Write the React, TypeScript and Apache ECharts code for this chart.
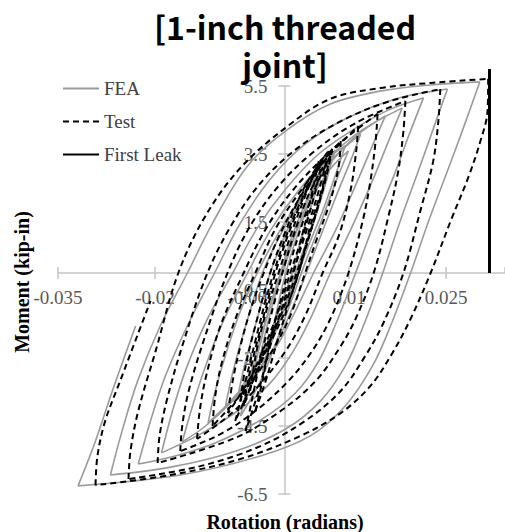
import React, { useEffect, useRef } from "react";
import * as echarts from "echarts";

type Pt = [number, number];

// Axis settings (rotation in radians, moment in kip-in)
const xMin = -0.035;
const xMax = 0.0341;
const xInterval = 0.015;
const yMin = -6.5;
const yMax = 5.5;
const yInterval = 2;

const legendNames = ["FEA", "Test", "First Leak"];
const titleLines = ["[1-inch threaded", "joint]"];
const xName = "Rotation (radians)";
const yName = "Moment (kip-in)";

// FEA: loading (ascending) branches, innermost to outermost
const feaUp: Pt[][] = [
  [[-0.0068, -4.21], [-0.0053, -3.03], [-0.0034, -1.71], [-0.0012, -0.38], [0.0012, 0.94], [0.004, 2.12], [0.0071, 3.06], [0.0099, 3.59]],
  [[-0.0034, -2.88], [-0.0019, -1.71], [0.0002, 0], [0.0025, 1.38], [0.0053, 2.71], [0.0079, 3.62]],
  [[-0.0056, -3.62], [-0.004, -2.29], [-0.0022, -0.97], [-0.0006, 0], [0.0012, 1.09], [0.0037, 2.26], [0.0063, 3.29]],
  [[-0.0045, -3.18], [-0.0034, -2.15], [-0.0019, -0.97], [-0.0003, 0], [0.0019, 1.24], [0.0043, 2.41], [0.0074, 3.44]],
  [[-0.0071, -3.53], [-0.006, -2.59], [-0.0043, -1.41], [-0.0022, 0], [0.0005, 1.29], [0.0032, 2.41], [0.0063, 3.29], [0.0094, 3.74]],
  [[-0.0091, -3.91], [-0.008, -2.94], [-0.006, -1.56], [-0.0034, 0], [-0.0003, 1.24], [0.0032, 2.41], [0.0074, 3.35], [0.0118, 4.09]],
  [[-0.0118, -4.41], [-0.0107, -3.47], [-0.009, -2.35], [-0.0068, -1.12], [-0.0042, 0], [-0.0009, 1.18], [0.0028, 2.26], [0.0071, 3.24], [0.0111, 4.03], [0.0156, 4.62]],
  [[-0.0158, -4.97], [-0.0142, -3.91], [-0.0122, -2.74], [-0.0093, -1.35], [-0.0057, 0], [-0.0022, 1.24], [0.0019, 2.35], [0.0063, 3.29], [0.0118, 4.18], [0.0182, 4.85]],
  [[-0.019, -5.29], [-0.0173, -4.06], [-0.0152, -2.82], [-0.0119, -1.35], [-0.008, 0], [-0.0043, 1.29], [0.0002, 2.47], [0.0053, 3.5], [0.011, 4.26], [0.0164, 4.82], [0.0215, 5.15]],
  [[-0.0226, -5.62], [-0.0207, -4.35], [-0.0184, -3.03], [-0.0148, -1.47], [-0.0108, 0], [-0.0068, 1.47], [-0.0022, 2.76], [0.0032, 3.79], [0.0094, 4.53], [0.0172, 5.12], [0.0252, 5.41]],
  [[-0.0269, -5.94], [-0.0251, -4.65], [-0.0227, -3.18], [-0.0192, -1.56], [-0.015, 0], [-0.0111, 1.47], [-0.0057, 3.15], [0.0002, 4.18], [0.0071, 4.97], [0.0148, 5.35], [0.0226, 5.53], [0.0302, 5.62]],
  [[-0.0319, -6.26], [-0.0292, -4.94], [-0.0266, -3.47], [-0.023, -1.56]],
];

// FEA: unloading (descending) branches
const feaDown: Pt[][] = [
  [[0.0099, 3.59], [0.008, 2.71], [0.0056, 1.47], [0.0032, 0.29], [0.0012, -0.76], [-0.0012, -2.0], [-0.0037, -3.18], [-0.0068, -4.21]],
  [[0.0079, 3.62], [0.0059, 2.41], [0.0037, 1.09], [0.0017, 0], [-0.0002, -1.12], [-0.0022, -2.15], [-0.004, -2.94]],
  [[0.0063, 3.29], [0.0049, 2.41], [0.0029, 1.24], [0.0012, 0], [-0.0006, -0.97], [-0.0028, -2.15], [-0.0049, -3.18], [-0.006, -3.71]],
  [[0.0074, 3.44], [0.0065, 2.71], [0.0046, 1.53], [0.0028, 0.5], [0.002, 0], [-0.0002, -1.12], [-0.0025, -2.15], [-0.0053, -2.94], [-0.0071, -3.53]],
  [[0.0094, 3.74], [0.008, 2.94], [0.0059, 1.82], [0.0034, 0.65], [0.0022, 0], [-0.0003, -1.18], [-0.0031, -2.29], [-0.006, -3.24], [-0.0091, -3.91]],
  [[0.0118, 4.09], [0.0102, 3.29], [0.008, 2.26], [0.0056, 1.09], [0.0034, 0], [0.0009, -1.18], [-0.0019, -2.29], [-0.006, -3.32], [-0.0118, -4.41]],
  [[0.0156, 4.62], [0.0136, 3.74], [0.0113, 2.71], [0.008, 1.29], [0.0045, 0], [0.0017, -1.12], [-0.0009, -2.06], [-0.004, -2.88], [-0.008, -3.76], [-0.0122, -4.5], [-0.0158, -4.97]],
  [[0.0182, 4.85], [0.0161, 3.88], [0.0136, 2.71], [0.0105, 1.38], [0.0071, 0], [0.004, -1.35], [0.0012, -2.35], [-0.0022, -3.24], [-0.0068, -4.0], [-0.013, -4.74], [-0.019, -5.29]],
  [[0.0215, 5.15], [0.0192, 4.03], [0.0169, 2.85], [0.0139, 1.47], [0.011, 0], [0.008, -1.47], [0.0053, -2.59], [0.0017, -3.53], [-0.0034, -4.29], [-0.0107, -5.0], [-0.0169, -5.38], [-0.0226, -5.62]],
  [[0.0252, 5.41], [0.0229, 4.18], [0.0207, 3.0], [0.0179, 1.53], [0.0152, 0], [0.0122, -1.56], [0.0094, -2.74], [0.0056, -3.76], [0.0002, -4.59], [-0.0076, -5.24], [-0.0176, -5.71], [-0.0269, -5.94]],
  [[0.0302, 5.62], [0.0275, 4.18], [0.0252, 3.0], [0.0223, 1.53], [0.0195, 0], [0.0164, -1.56], [0.0136, -2.74], [0.0094, -3.91], [0.004, -4.79], [-0.0037, -5.38], [-0.0161, -5.94], [-0.0319, -6.26]],
];

// Test: loading (ascending) branches
const testUp: Pt[][] = [
  [[-0.006, -4.65], [-0.0049, -3.62], [-0.0034, -2.29], [-0.0015, -0.82], [0, 0.21], [0.0019, 1.38], [0.004, 2.41], [0.0065, 3.29]],
  [[-0.0045, -4.06], [-0.0034, -3.18], [-0.0022, -2.0], [-0.0006, -0.82], [0.0009, 0.29], [0.0028, 1.47], [0.0049, 2.56], [0.0071, 3.44]],
  [[-0.0063, -3.91], [-0.0053, -2.88], [-0.0034, -1.41], [-0.0014, 0], [0.0009, 1.29], [0.0034, 2.41], [0.0059, 3.35]],
  [[-0.0076, -4.35], [-0.0062, -3.32], [-0.0043, -1.85], [-0.0025, -0.53], [-0.0003, 0.79], [0.0022, 1.97], [0.0048, 2.94], [0.0074, 3.65]],
  [[-0.0053, -3.47], [-0.0043, -2.29], [-0.0028, -1.12], [-0.0009, 0], [0.0012, 1.24], [0.0032, 2.26], [0.0053, 3.29]],
  [[-0.0068, -3.76], [-0.006, -2.74], [-0.0045, -1.56], [-0.0022, 0], [0.0002, 1.24], [0.0032, 2.56], [0.0068, 3.59]],
  [[-0.0087, -4.12], [-0.008, -3.18], [-0.0068, -2.15], [-0.0053, -1.12], [-0.0032, 0], [-0.0006, 1.18], [0.0025, 2.26], [0.0056, 3.15], [0.0087, 3.88]],
  [[-0.0111, -4.5], [-0.0107, -3.62], [-0.0096, -2.59], [-0.0074, -1.26], [-0.0045, 0], [-0.0014, 1.29], [0.0025, 2.41], [0.0068, 3.44], [0.0114, 4.32]],
  [[-0.0135, -4.88], [-0.0131, -4.06], [-0.0121, -3.03], [-0.0099, -1.56], [-0.0063, 0], [-0.0029, 1.29], [0.0012, 2.41], [0.0063, 3.44], [0.0105, 4.12], [0.0144, 4.68]],
  [[-0.0161, -5.24], [-0.0158, -4.5], [-0.0148, -3.47], [-0.0125, -2.0], [-0.0088, 0], [-0.0053, 1.38], [-0.0009, 2.56], [0.0043, 3.53], [0.011, 4.41], [0.0187, 5.06]],
  [[-0.0196, -5.59], [-0.0193, -4.79], [-0.0182, -3.76], [-0.0158, -2.15], [-0.0119, 0], [-0.008, 1.47], [-0.0034, 2.71], [0.0025, 3.74], [0.0094, 4.53], [0.0164, 5.06], [0.0241, 5.41]],
  [[-0.0241, -6.06], [-0.0238, -5.24], [-0.0226, -4.06], [-0.0199, -2.29], [-0.0164, 0], [-0.0122, 1.68], [-0.0068, 3.09], [0.0005, 4.32], [0.0071, 5.12], [0.0148, 5.44], [0.0226, 5.59], [0.0315, 5.71]],
  [[-0.0292, -6.24], [-0.0289, -5.38], [-0.0277, -4.35], [-0.0254, -3.18], [-0.0207, -0.82]],
];

// Test: unloading (descending) branches
const testDown: Pt[][] = [
  [[0.0065, 3.29], [0.0053, 2.41], [0.0034, 1.24], [0.0015, 0.12], [-0.0003, -0.97], [-0.0022, -2.15], [-0.004, -3.47], [-0.006, -4.65]],
  [[0.0071, 3.44], [0.0059, 2.47], [0.0043, 1.38], [0.0025, 0.21], [0.0008, -0.82], [-0.0011, -2.0], [-0.0029, -3.18], [-0.0045, -4.06]],
  [[0.0059, 3.35], [0.0048, 2.41], [0.0031, 1.24], [0.0014, 0], [-0.0006, -1.18], [-0.0031, -2.29], [-0.0063, -3.91]],
  [[0.0074, 3.65], [0.0065, 2.85], [0.0049, 1.76], [0.0028, 0.5], [0.0006, -0.68], [-0.0019, -1.85], [-0.0045, -3.03], [-0.0076, -4.35]],
  [[0.0053, 3.29], [0.004, 2.12], [0.0025, 0.94], [0.0009, 0], [-0.0012, -1.26], [-0.0037, -2.44], [-0.0068, -3.76]],
  [[0.0068, 3.59], [0.0059, 2.56], [0.004, 1.38], [0.0022, 0], [-0.0002, -1.26], [-0.0029, -2.29], [-0.006, -3.32], [-0.0087, -4.12]],
  [[0.0087, 3.88], [0.0084, 3.15], [0.0071, 2.12], [0.0049, 0.94], [0.0032, 0], [0.0009, -1.26], [-0.0019, -2.29], [-0.0056, -3.32], [-0.0111, -4.5]],
  [[0.0114, 4.32], [0.0111, 3.59], [0.0102, 2.41], [0.0084, 1.09], [0.0059, 0], [0.0032, -1.26], [0.0002, -2.29], [-0.004, -3.32], [-0.0087, -4.21], [-0.0135, -4.88]],
  [[0.0144, 4.68], [0.0141, 3.88], [0.0133, 2.71], [0.0121, 1.53], [0.0099, 0], [0.0071, -1.35], [0.0043, -2.29], [0.0006, -3.18], [-0.0045, -4.06], [-0.0099, -4.74], [-0.0161, -5.24]],
  [[0.0187, 5.06], [0.0184, 4.18], [0.0176, 3.0], [0.0161, 1.68], [0.0138, 0], [0.011, -1.35], [0.0084, -2.24], [0.0048, -3.18], [-0.0006, -4.06], [-0.0076, -4.85], [-0.0196, -5.59]],
  [[0.0241, 5.41], [0.0238, 4.47], [0.023, 3.29], [0.021, 1.82], [0.0184, 0], [0.0153, -1.47], [0.0125, -2.44], [0.0087, -3.47], [0.0032, -4.35], [-0.0037, -5.09], [-0.013, -5.68], [-0.0241, -6.06]],
  [[0.0315, 5.71], [0.0314, 4.76], [0.0303, 3.88], [0.0285, 2.85], [0.0257, 1.53], [0.0226, 0], [0.0195, -1.35], [0.0167, -2.35], [0.0133, -3.32], [0.0087, -4.12], [0.0025, -4.79], [-0.0068, -5.47], [-0.0176, -5.94], [-0.0292, -6.24]],
];

// First leak marker
const firstLeak: Pt[] = [[0.0317, 0], [0.0317, 6.0]];

const AXIS_COLOR = "#c4c4c4";
const LABEL_COLOR = "#595959";
const SERIF = '"Liberation Serif", "Times New Roman", serif';

const W = 505;
const H = 532;
const GRID = { left: 58, right: 0, top: 86, bottom: 38 };

export default function App() {
  const ref = useRef<HTMLDivElement>(null);

  useEffect(() => {
    if (!ref.current) return;
    const chart = echarts.init(ref.current, null, { renderer: "svg" });

    const feaStyle = { color: "#9a9a9a", width: 1.6, type: "solid" as const };
    const testStyle = { color: "#000000", width: 2, type: [6, 4] as number[] };

    const branchSeries = (name: string, branches: Pt[][], style: any, color: string, z: number) =>
      branches.map((b) => ({
        type: "line",
        name,
        data: b,
        symbol: "none",
        smooth: 0.35,
        clip: false,
        silent: true,
        color,
        z,
        lineStyle: style,
      }));

    const series: any[] = [
      ...branchSeries("FEA", [...feaUp, ...feaDown], feaStyle, "#9a9a9a", 2),
      ...branchSeries("Test", [...testUp, ...testDown], testStyle, "#000000", 3),
      {
        type: "line",
        name: "First Leak",
        data: firstLeak,
        symbol: "none",
        clip: false,
        silent: true,
        color: "#000000",
        z: 4,
        lineStyle: { color: "#000000", width: 3 },
      },
    ];

    // place the axes where the other axis is zero (crossing axes)
    const gridW = W - GRID.left - GRID.right;
    const gridH = H - GRID.top - GRID.bottom;
    const zeroX = GRID.left + ((0 - xMin) / (xMax - xMin)) * gridW;
    const zeroY = GRID.top + ((yMax - 0) / (yMax - yMin)) * gridH;
    const offBottom = -(GRID.top + gridH - zeroY);
    const offTop = -(zeroY - GRID.top);
    const offLeft = -(zeroX - GRID.left);
    const offRight = -(GRID.left + gridW - zeroX);

    const xFmt = (v: number) => String(+v.toFixed(3));
    const yFmt = (v: number) => v.toFixed(1);

    const axisLine = { onZero: false, lineStyle: { color: AXIS_COLOR, width: 1.5 } };
    const hiddenLine = { show: false, onZero: false };
    const axisTick = { show: true, length: 6, lineStyle: { color: AXIS_COLOR, width: 1.5 } };
    const labelStyle = { color: LABEL_COLOR, fontFamily: SERIF, fontSize: 19 };

    chart.setOption({
      animation: false,
      backgroundColor: "#ffffff",
      grid: { ...GRID, containLabel: false, outerBoundsMode: "none" },
      legend: {
        data: legendNames,
        orient: "vertical",
        left: 62,
        top: 79,
        padding: 0,
        itemWidth: 36,
        itemHeight: 14,
        itemGap: 14,
        selectedMode: false,
        itemStyle: { opacity: 0 },
        textStyle: { fontFamily: SERIF, fontSize: 19, color: "#404040" },
      },
      xAxis: [
        {
          type: "value",
          min: xMin,
          max: xMax,
          interval: xInterval,
          position: "bottom",
          offset: offBottom,
          axisLine,
          axisTick,
          axisLabel: { ...labelStyle, margin: 15, showMaxLabel: false, formatter: xFmt },
          splitLine: { show: false },
        },
        {
          type: "value",
          min: xMin,
          max: xMax,
          interval: xInterval,
          position: "top",
          offset: offTop,
          axisLine: hiddenLine,
          axisTick,
          axisLabel: { show: false },
          splitLine: { show: false },
        },
      ],
      yAxis: [
        {
          type: "value",
          min: yMin,
          max: yMax,
          interval: yInterval,
          position: "left",
          offset: offLeft,
          axisLine,
          axisTick,
          axisLabel: { ...labelStyle, margin: 17, formatter: yFmt },
          splitLine: { show: false },
        },
        {
          type: "value",
          min: yMin,
          max: yMax,
          interval: yInterval,
          position: "right",
          offset: offRight,
          axisLine: hiddenLine,
          axisTick,
          axisLabel: { show: false },
          splitLine: { show: false },
        },
      ],
      graphic: [
        {
          type: "text",
          x: 285,
          y: 26,
          z: 10,
          style: {
            text: titleLines[0],
            font: 'bold 32px "Noto Sans CJK KR", "Noto Sans", sans-serif',
            fill: "#000000",
            textAlign: "center",
            textVerticalAlign: "middle",
          },
        },
        {
          type: "text",
          x: 285,
          y: 64,
          z: 10,
          style: {
            text: titleLines[1],
            font: 'bold 32px "Noto Sans CJK KR", "Noto Sans", sans-serif',
            fill: "#000000",
            textAlign: "center",
            textVerticalAlign: "middle",
          },
        },
        {
          type: "text",
          x: 22,
          y: 282,
          rotation: Math.PI / 2,
          style: {
            text: yName,
            font: 'bold 20px "Liberation Serif", serif',
            fill: "#000000",
            textAlign: "center",
            textVerticalAlign: "middle",
          },
        },
        {
          type: "text",
          x: 285,
          y: 522,
          style: {
            text: xName,
            font: 'bold 20px "Liberation Serif", serif',
            fill: "#000000",
            textAlign: "center",
            textVerticalAlign: "middle",
          },
        },
      ],
      series,
    });

    return () => chart.dispose();
  }, []);

  return (
    <div
      ref={ref}
      style={{ position: "fixed", left: 0, top: 0, width: W, height: H, background: "#ffffff" }}
    />
  );
}
